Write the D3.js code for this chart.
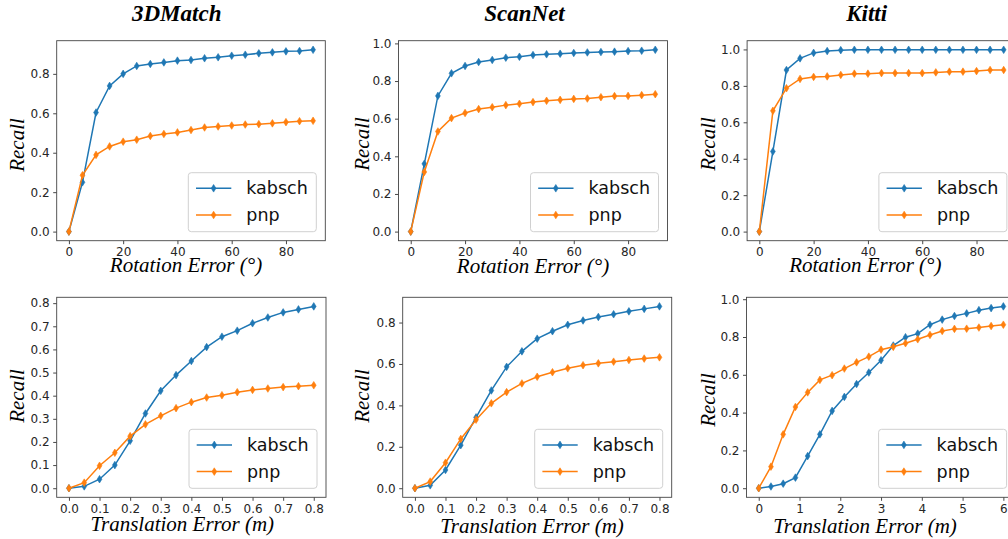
<!DOCTYPE html>
<html>
<head>
<meta charset="utf-8">
<script src="https://cdn.jsdelivr.net/npm/d3@7/dist/d3.min.js"></script>
<style>
  body { margin: 0; background: #fff; }
  svg { display: block; }
</style>
</head>
<body>
<svg id="chart" width="1008" height="539"></svg>
<script>
// ---------------- DATA ----------------
const seriesNames = ["kabsch", "pnp"];
const titles = ["3DMatch", "ScanNet", "Kitti"];

const rotErrors = [0, 5, 10, 15, 20, 25, 30, 35, 40, 45, 50, 55, 60, 65, 70, 75, 80, 85, 90];
const transErrors = [0.0, 0.05, 0.1, 0.15, 0.2, 0.25, 0.3, 0.35, 0.4, 0.45, 0.5, 0.55, 0.6, 0.65, 0.7, 0.75, 0.8];
const kittiTransErrors = [0.0, 0.3, 0.6, 0.9, 1.2, 1.5, 1.8, 2.1, 2.4, 2.7, 3.0, 3.3, 3.6, 3.9, 4.2, 4.5, 4.8, 5.1, 5.4, 5.7, 6.0];

// 3DMatch rotation
const match3dRotKabsch = [0, 0.25, 0.604, 0.739, 0.80, 0.84, 0.85, 0.858, 0.867, 0.870, 0.879, 0.884, 0.892, 0.897, 0.904, 0.909, 0.914, 0.916, 0.922];
const match3dRotPnp    = [0, 0.286, 0.389, 0.432, 0.456, 0.466, 0.485, 0.495, 0.503, 0.515, 0.528, 0.533, 0.538, 0.543, 0.545, 0.549, 0.555, 0.560, 0.562];
// ScanNet rotation
const scannetRotKabsch = [0, 0.36, 0.721, 0.841, 0.88, 0.901, 0.912, 0.924, 0.929, 0.938, 0.942, 0.945, 0.949, 0.952, 0.954, 0.956, 0.959, 0.961, 0.966];
const scannetRotPnp    = [0, 0.317, 0.532, 0.603, 0.63, 0.651, 0.661, 0.672, 0.679, 0.688, 0.695, 0.700, 0.705, 0.707, 0.714, 0.720, 0.721, 0.725, 0.730];
// Kitti rotation
const kittiRotKabsch = [0, 0.44, 0.887, 0.951, 0.981, 0.991, 0.996, 0.998, 0.998, 0.998, 0.998, 0.998, 0.998, 0.998, 0.998, 0.998, 0.998, 0.998, 0.998];
const kittiRotPnp    = [0, 0.663, 0.787, 0.838, 0.849, 0.852, 0.860, 0.867, 0.867, 0.870, 0.870, 0.870, 0.870, 0.874, 0.878, 0.878, 0.881, 0.887, 0.887];
// 3DMatch translation
const match3dTransKabsch = [0, 0.008, 0.039, 0.10, 0.205, 0.323, 0.421, 0.489, 0.55, 0.61, 0.655, 0.681, 0.713, 0.738, 0.76, 0.773, 0.786];
const match3dTransPnp    = [0, 0.024, 0.097, 0.153, 0.225, 0.276, 0.313, 0.346, 0.372, 0.392, 0.402, 0.415, 0.425, 0.431, 0.437, 0.441, 0.445];
// ScanNet translation
const scannetTransKabsch = [0, 0.014, 0.088, 0.208, 0.342, 0.472, 0.586, 0.661, 0.722, 0.758, 0.789, 0.81, 0.827, 0.84, 0.854, 0.866, 0.878];
const scannetTransPnp    = [0, 0.032, 0.123, 0.238, 0.331, 0.41, 0.464, 0.506, 0.538, 0.56, 0.579, 0.594, 0.603, 0.611, 0.619, 0.626, 0.632];
// Kitti translation
const kittiTransKabsch = [0, 0.009, 0.024, 0.056, 0.17, 0.285, 0.409, 0.483, 0.551, 0.612, 0.677, 0.755, 0.799, 0.818, 0.865, 0.892, 0.911, 0.925, 0.942, 0.953, 0.962];
const kittiTransPnp    = [0, 0.114, 0.285, 0.43, 0.507, 0.573, 0.598, 0.633, 0.666, 0.696, 0.733, 0.748, 0.767, 0.788, 0.811, 0.832, 0.843, 0.844, 0.85, 0.858, 0.865];

// tick values
const rotXTicks = [0, 20, 40, 60, 80];
const transXTicks = [0.0, 0.1, 0.2, 0.3, 0.4, 0.5, 0.6, 0.7, 0.8];
const kittiTransXTicks = [0, 1, 2, 3, 4, 5, 6];
const yTicks08 = [0.0, 0.2, 0.4, 0.6, 0.8];
const yTicks10 = [0.0, 0.2, 0.4, 0.6, 0.8, 1.0];
const yTicksFine = [0.0, 0.1, 0.2, 0.3, 0.4, 0.5, 0.6, 0.7, 0.8];

const rotLabel = "Rotation Error (°)";
const transLabel = "Translation Error (m)";
const yLabel = "Recall";

// ---------------- LAYOUT ----------------
const colors = ["#1f77b4", "#ff7f0e"];

const panels = [
  { x: rotErrors, s: [match3dRotKabsch, match3dRotPnp], box: [56.7, 40.7, 325.3, 240.7], xt: rotXTicks, yt: yTicks08, xf: d3.format("d"), yf: d3.format(".1f"),
    xl: rotLabel, xlPos: [186, 272], ylPos: [16.5, 145] },
  { x: rotErrors, s: [scannetRotKabsch, scannetRotPnp], box: [398.5, 40.7, 667.5, 240.7], xt: rotXTicks, yt: yTicks10, xf: d3.format("d"), yf: d3.format(".1f"),
    xl: rotLabel, xlPos: [533, 272.5], ylPos: [361.7, 144] },
  { x: rotErrors, s: [kittiRotKabsch, kittiRotPnp], box: [747.1, 40.7, 1015.9, 240.7], xt: rotXTicks, yt: yTicks10, xf: d3.format("d"), yf: d3.format(".1f"),
    xl: rotLabel, xlPos: [865.3, 272], ylPos: [707.5, 144] },
  { x: transErrors, s: [match3dTransKabsch, match3dTransPnp], box: [56.7, 297.3, 326, 497.3], xt: transXTicks, yt: yTicksFine, xf: d3.format(".1f"), yf: d3.format(".1f"),
    xl: transLabel, xlPos: [182.3, 530.5], ylPos: [16.7, 396] },
  { x: transErrors, s: [scannetTransKabsch, scannetTransPnp], box: [402.7, 297.3, 671.7, 497.3], xt: transXTicks, yt: yTicks08, xf: d3.format(".1f"), yf: d3.format(".1f"),
    xl: transLabel, xlPos: [532, 532.5], ylPos: [362, 396] },
  { x: kittiTransErrors, s: [kittiTransKabsch, kittiTransPnp], box: [746.5, 297.3, 1015.6, 497.3], xt: kittiTransXTicks, yt: yTicks10, xf: d3.format("d"), yf: d3.format(".1f"),
    xl: transLabel, xlPos: [865, 532.5], ylPos: [707.5, 400] }
];

const titlePos = [[176.7, 21], [524.5, 21], [866.7, 21]];

const svg = d3.select("#chart");

// titles
titles.forEach((t, i) => {
  svg.append("text")
    .attr("x", titlePos[i][0]).attr("y", titlePos[i][1])
    .attr("text-anchor", "middle")
    .style("font-family", "'Liberation Serif', 'Times New Roman', serif")
    .style("font-weight", "bold").style("font-style", "italic")
    .style("font-size", "23px").attr("fill", "#000")
    .text(t);
});

const diamond = (hw, hh) => `M0,${-hh}L${hw},0L0,${hh}L${-hw},0Z`;

panels.forEach(p => {
  const [L, T, R, B] = p.box;
  const xExt = d3.extent(p.x);
  const xm = (xExt[1] - xExt[0]) * 0.05;
  const allY = p.s.flat();
  const yExt = d3.extent(allY);
  const ym = (yExt[1] - yExt[0]) * 0.05;
  const x = d3.scaleLinear().domain([xExt[0] - xm, xExt[1] + xm]).range([L, R]);
  const y = d3.scaleLinear().domain([yExt[0] - ym, yExt[1] + ym]).range([B, T]);

  const g = svg.append("g");

  // clip
  const cid = "clip" + Math.round(L) + "_" + Math.round(T);
  svg.append("clipPath").attr("id", cid).append("rect")
    .attr("x", L).attr("y", T).attr("width", R - L).attr("height", B - T);

  // series
  const plot = g.append("g").attr("clip-path", `url(#${cid})`);
  p.s.forEach((vals, si) => {
    const pts = p.x.map((xv, k) => [xv, vals[k]]);
    plot.append("path")
      .datum(pts)
      .attr("fill", "none").attr("stroke", colors[si]).attr("stroke-width", 1.5)
      .attr("d", d3.line().x(d => x(d[0])).y(d => y(d[1])));
    plot.selectAll(null).data(pts).enter().append("path")
      .attr("transform", d => `translate(${x(d[0])},${y(d[1])})`)
      .attr("d", diamond(2.4, 3.8))
      .attr("fill", colors[si]).attr("stroke", colors[si]).attr("stroke-width", 0.6);
  });

  // axes
  const xAxis = d3.axisBottom(x).tickValues(p.xt).tickFormat(p.xf).tickSize(3.5).tickPadding(3.5);
  const yAxis = d3.axisLeft(y).tickValues(p.yt).tickFormat(p.yf).tickSize(3.5).tickPadding(3.5);
  const gx = g.append("g").attr("transform", `translate(0,${B})`).call(xAxis);
  const gy = g.append("g").attr("transform", `translate(${L},0)`).call(yAxis);
  [gx, gy].forEach(ax => {
    ax.select(".domain").remove();
    ax.selectAll(".tick line").attr("stroke", "#333").attr("stroke-width", 0.9);
    ax.selectAll(".tick text")
      .style("font-family", "'DejaVu Sans', sans-serif")
      .style("font-size", "12px").attr("fill", "#262626");
  });

  // frame
  g.append("rect").attr("x", L).attr("y", T).attr("width", R - L).attr("height", B - T)
    .attr("fill", "none").attr("stroke", "#444").attr("stroke-width", 0.9);

  // legend (lower right)
  const lw = 128, lh = 59;
  const lx = R - 9 - lw, ly = B - 9 - lh;
  const lg = g.append("g");
  lg.append("rect").attr("x", lx).attr("y", ly).attr("width", lw).attr("height", lh)
    .attr("rx", 3).attr("fill", "#fff").attr("fill-opacity", 0.8)
    .attr("stroke", "#d0d0d0").attr("stroke-width", 1);
  seriesNames.forEach((n, si) => {
    const yy = ly + 15.6 + si * 26.7;
    lg.append("line").attr("x1", lx + 7.7).attr("x2", lx + 43).attr("y1", yy).attr("y2", yy)
      .attr("stroke", colors[si]).attr("stroke-width", 1.5);
    lg.append("path").attr("transform", `translate(${lx + 25.3},${yy})`)
      .attr("d", diamond(2.4, 3.8)).attr("fill", colors[si]).attr("stroke", colors[si]).attr("stroke-width", 0.6);
    lg.append("text").attr("x", lx + 58).attr("y", yy + 6)
      .style("font-family", "'DejaVu Sans', sans-serif").style("font-size", "17.5px")
      .attr("fill", "#111").text(n);
  });

  // axis labels
  svg.append("text").attr("x", p.xlPos[0]).attr("y", p.xlPos[1])
    .attr("text-anchor", "middle")
    .style("font-family", "'Liberation Serif', 'Times New Roman', serif")
    .style("font-style", "italic").style("font-size", "21px").attr("fill", "#000")
    .text(p.xl);
  svg.append("text")
    .attr("transform", `translate(${p.ylPos[0] + 7},${p.ylPos[1]}) rotate(-90)`)
    .attr("text-anchor", "middle")
    .style("font-family", "'Liberation Serif', 'Times New Roman', serif")
    .style("font-style", "italic").style("font-size", "21px").attr("fill", "#000")
    .text(yLabel);
});
</script>
</body>
</html>
